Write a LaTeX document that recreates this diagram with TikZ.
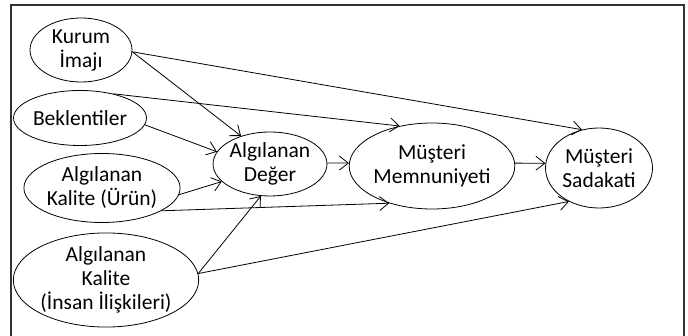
\documentclass[tikz,border=0pt]{standalone}
\usepackage{fontspec}
\setmainfont{Carlito}
\usetikzlibrary{arrows.meta,shapes.geometric}
\tikzset{
  oval/.style={draw, ellipse, inner sep=0pt, line width=0.8pt, align=center,
    font=\fontsize{21.5}{24}\selectfont},
  arr/.style={line width=0.8pt, -{Straight Barb[length=9pt,width=14pt,line width=0.8pt]}},
  frame/.style={line width=1.6pt, draw=black!80}
}
\begin{document}
\begin{tikzpicture}[x=1pt,y=-1pt]
\useasboundingbox (0,0) rectangle (688,336);
\draw[frame] (11,340) -- (11,5) -- (684,5) -- (684,340);

\node[oval, minimum width=102pt, minimum height=64pt] (kurum) at (81,50) {Kurum\\İmajı};
\node[oval, minimum width=101pt, minimum height=55pt] (bek) at (80,118) {Beklentiler};
\node[oval, minimum width=144pt, minimum height=69pt] (urun) at (102,188) {Algılanan\\Kalite (Ürün)};
\node[oval, minimum width=152pt, minimum height=94pt] (insan) at (106,280) {Algılanan\\Kalite\\(İnsan İlişkileri)};
\node[oval, minimum width=101pt, minimum height=64pt] (deger) at (270,164) {Algılanan\\Değer};
\node[oval, minimum width=150pt, minimum height=86pt] (memn) at (432,166) {Müşteri\\Memnuniyeti};
\node[oval, minimum width=107pt, minimum height=80pt] (sad) at (599,168) {Müşteri\\Sadakati};

\draw[arr] (kurum.-2) -- (deger.136);
\draw[arr] (kurum.-2) -- (sad.114);
\draw[arr] (bek.36) -- (memn.129);
\draw[arr] (bek.-6) -- (deger.167);
\draw[arr] (urun.-5.5) -- (deger.200);
\draw[arr] (urun.-21) -- (memn.221);
\draw[arr] (insan.4) -- (deger.254);
\draw[arr] (insan.4) -- (sad.228);
\draw[arr] (deger.1) -- (memn.178);
\draw[arr] (memn.2) -- (sad.175);
\end{tikzpicture}
\end{document}
